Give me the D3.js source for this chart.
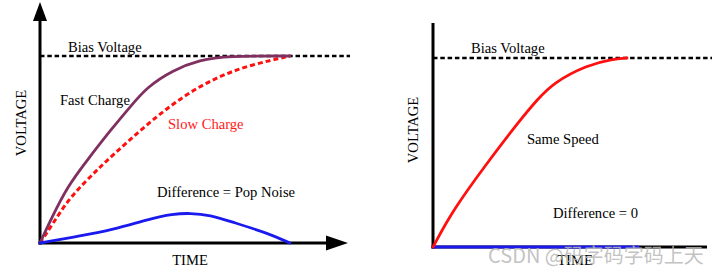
<!DOCTYPE html>
<html>
<head>
<meta charset="utf-8">
<script src="https://cdn.jsdelivr.net/npm/d3@7"></script>
<style>
  body { margin: 0; background: #fff; }
  svg text { font-family: "Liberation Serif", "Times New Roman", serif; }
</style>
</head>
<body>
<div id="graphicContainer"></div>
<script>
// time in arbitrary units, voltage as a fraction of bias voltage
var fastCharge = [[0,0],[0.48,0.139],[1.12,0.305],[1.8,0.428],[2.92,0.62],[3.6,0.727],[4.28,0.834],[5.32,0.925],[6.4,0.979],[7.48,1],[10,1]];
var slowCharge = [[0,0],[0.48,0.096],[1.12,0.23],[1.8,0.326],[2.4,0.406],[3.0,0.481],[3.72,0.567],[4.4,0.647],[5.72,0.786],[7.08,0.888],[8.4,0.952],[10,1]];
var popNoise   = [[0,0],[1.5,0.035],[2.9,0.07],[4.4,0.13],[5.3,0.155],[6,0.16],[6.8,0.15],[7.7,0.112],[9.1,0.053],[10,0]];

var sameSpeed  = [[0,0],[0.8,0.196],[2.16,0.444],[3.48,0.672],[4.16,0.778],[4.8,0.868],[6.16,0.963],[7.2,0.995],[7.76,1]];
var noDiff     = [[0,0],[8.2,0]];

var biasLevel = 1;

var width = 716, height = 274;

var svg = d3.select("#graphicContainer").append("svg")
  .attr("width", width)
  .attr("height", height);

svg.append("rect").attr("width", width).attr("height", height).attr("fill", "#fff");

function drawPanel(opt) {
  var x = d3.scaleLinear().domain([0, opt.tMax]).range([opt.x0, opt.x1]);
  var y = d3.scaleLinear().domain([0, 1]).range([opt.y0, opt.yBias]);
  var line = d3.line().x(d => x(d[0])).y(d => y(d[1])).curve(d3.curveBasis);

  var g = svg.append("g");

  // bias voltage dashed line
  g.append("line")
    .attr("x1", opt.x0).attr("x2", opt.biasEnd)
    .attr("y1", y(biasLevel)).attr("y2", y(biasLevel))
    .attr("stroke", "#000").attr("stroke-width", 2.6)
    .attr("stroke-dasharray", "4.5,2.8");

  // axes
  g.append("line")
    .attr("x1", opt.x0).attr("x2", opt.x0)
    .attr("y1", opt.y0 + 1.5).attr("y2", opt.yTop)
    .attr("stroke", "#000").attr("stroke-width", 3);
  g.append("line")
    .attr("x1", opt.x0 - 1.5).attr("x2", opt.xEnd)
    .attr("y1", opt.y0).attr("y2", opt.y0)
    .attr("stroke", "#000").attr("stroke-width", 3);

  if (opt.arrows) {
    g.append("path")
      .attr("d", "M" + (opt.x0 - 7) + "," + (opt.yTop) + "L" + opt.x0 + "," + (opt.yTop - 19) + "L" + (opt.x0 + 7) + "," + opt.yTop + "Z")
      .attr("fill", "#000");
    g.append("path")
      .attr("d", "M" + opt.xEnd + "," + (opt.y0 - 7.5) + "L" + (opt.xEnd + 22) + "," + opt.y0 + "L" + opt.xEnd + "," + (opt.y0 + 7.5) + "Z")
      .attr("fill", "#000");
  }

  opt.series.forEach(s => {
    g.append("path")
      .datum(s.data)
      .attr("d", line)
      .attr("fill", "none")
      .attr("stroke", s.color)
      .attr("stroke-width", s.width || 2.8)
      .attr("stroke-dasharray", s.dash || null)
      .attr("stroke-linecap", s.dash ? "butt" : "round");
  });

  opt.labels.forEach(l => {
    g.append("text")
      .attr("x", l.x).attr("y", l.y)
      .attr("fill", l.color || "#000")
      .attr("font-size", 14.6)
      .text(l.text);
  });

  g.append("text")
    .attr("transform", "translate(" + opt.vLabelX + "," + opt.vLabelY + ") rotate(-90)")
    .attr("text-anchor", "middle")
    .attr("font-size", 14.6)
    .attr("fill", "#000")
    .text("VOLTAGE");

  g.append("text")
    .attr("x", opt.tLabelX).attr("y", 265)
    .attr("text-anchor", "middle")
    .attr("font-size", 14.6)
    .attr("fill", "#000")
    .text("TIME");
}

drawPanel({
  x0: 40, x1: 290, tMax: 10, y0: 243, yBias: 56, yTop: 21, xEnd: 326, biasEnd: 350,
  arrows: true,
  vLabelX: 26, vLabelY: 123, tLabelX: 190,
  series: [
    {data: slowCharge, color: "#ff1010", dash: "5,3", width: 3},
    {data: fastCharge, color: "#803060"},
    {data: popNoise, color: "#1a1aee"}
  ],
  labels: [
    {x: 68, y: 52, text: "Bias Voltage"},
    {x: 60, y: 105, text: "Fast Charge"},
    {x: 168, y: 129, text: "Slow Charge", color: "#ff1a1a"},
    {x: 157, y: 197, text: "Difference = Pop Noise"}
  ]
});

drawPanel({
  x0: 433, x1: 627, tMax: 7.76, y0: 247, yBias: 58, yTop: 23, xEnd: 707, biasEnd: 712,
  arrows: false,
  vLabelX: 418, vLabelY: 130, tLabelX: 575,
  series: [
    {data: noDiff, color: "#1a1aee", width: 3.2},
    {data: sameSpeed, color: "#ff1010"}
  ],
  labels: [
    {x: 471, y: 53, text: "Bias Voltage"},
    {x: 527, y: 144, text: "Same Speed"},
    {x: 553, y: 218, text: "Difference = 0"}
  ]
});

// watermark
svg.append("text")
  .attr("x", 488).attr("y", 263)
  .attr("font-size", 20)
  .attr("fill", "#b8b8b8")
  .attr("fill-opacity", 0.85)
  .style("font-family", "'Noto Sans CJK SC', 'Noto Sans', sans-serif")
  .text("CSDN @码字码字码上天");
</script>
</body>
</html>
